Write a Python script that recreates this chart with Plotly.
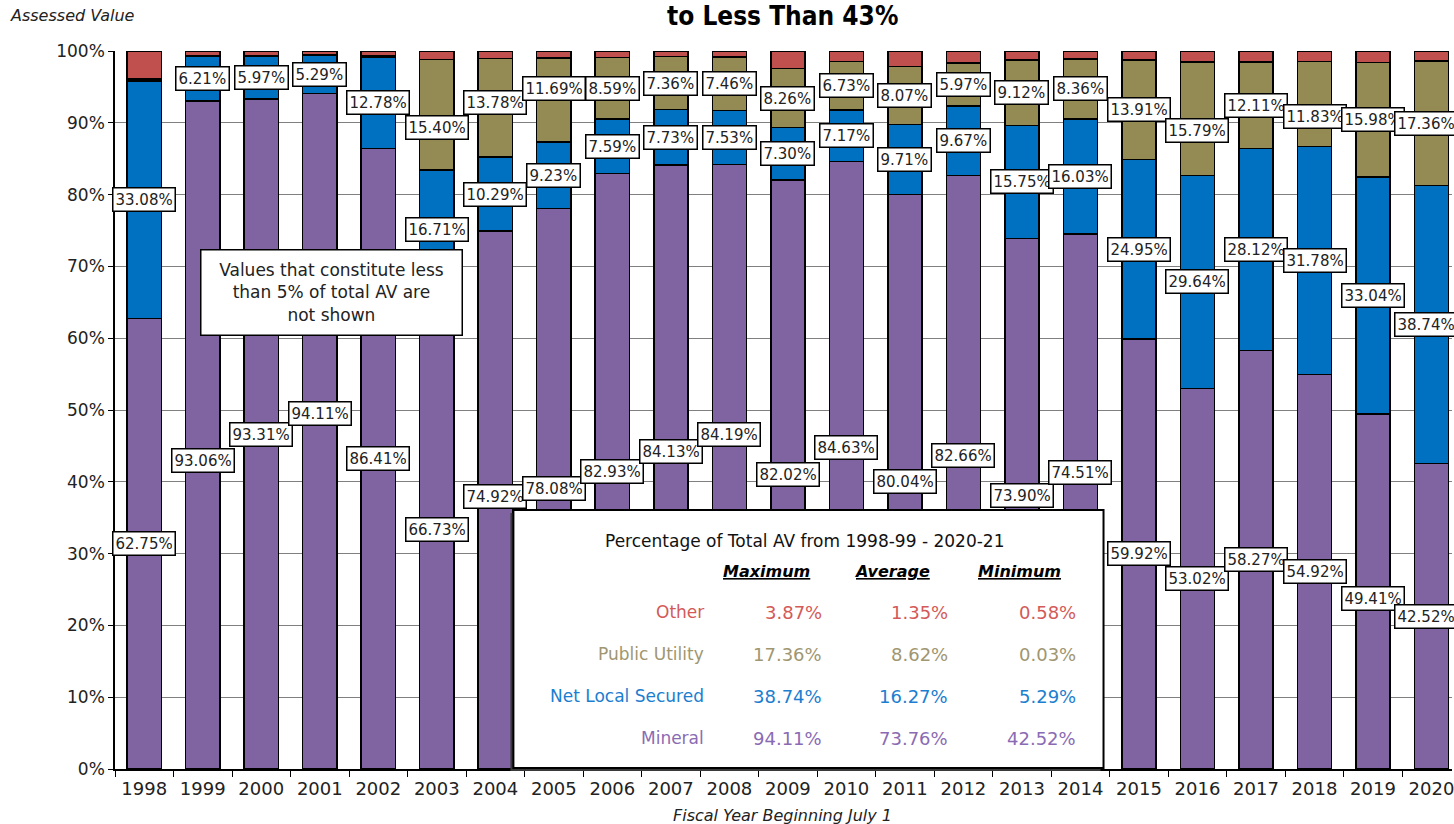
import plotly.graph_objects as go

# ---- data -------------------------------------------------------------
years = [str(y) for y in range(1998, 2021)]

mineral = [62.75, 93.06, 93.31, 94.11, 86.41, 66.73, 74.92, 78.08, 82.93, 84.13,
           84.19, 82.02, 84.63, 80.04, 82.66, 73.90, 74.51, 59.92, 53.02, 58.27,
           54.92, 49.41, 42.52]
net_local_secured = [33.08, 6.21, 5.97, 5.29, 12.78, 16.71, 10.29, 9.23, 7.59, 7.73,
                     7.53, 7.30, 7.17, 9.71, 9.67, 15.75, 16.03, 24.95, 29.64, 28.12,
                     31.78, 33.04, 38.74]
public_utility = [0.30, 0.03, 0.03, 0.03, 0.08, 15.40, 13.78, 11.69, 8.59, 7.36,
                  7.46, 8.26, 6.73, 8.07, 5.97, 9.12, 8.36, 13.91, 15.79, 12.11,
                  11.83, 15.98, 17.36]
other = [3.87, 0.70, 0.69, 0.58, 0.73, 1.16, 1.01, 1.00, 0.89, 0.78,
         0.82, 2.42, 1.47, 2.18, 1.70, 1.23, 1.10, 1.22, 1.55, 1.50,
         1.47, 1.57, 1.38]

series_names = ["Mineral", "Net Local Secured", "Public Utility", "Other"]
series_values = [mineral, net_local_secured, public_utility, other]

# ---- styling ------------------------------------------------------------
bar_colors = ["#8064A2", "#0070C0", "#948A54", "#C0504D"]
text_colors = ["#8A6BB3", "#1B7ED0", "#A09670", "#D35A58"]
FONT = "DejaVu Sans"
NARROW = "Liberation Sans Narrow, DejaVu Sans Condensed, Arial Narrow, sans-serif"
LABEL_MIN = 5.0  # smaller shares get no value label

# manual vertical nudges (percentage points) for a few value labels
label_nudge = {
    ("Mineral", "1999"): -3.5, ("Mineral", "2001"): 2.4, ("Mineral", "2004"): 0.5,
    ("Mineral", "2007"): 2.1, ("Mineral", "2008"): 4.5, ("Mineral", "2010"): 2.5,
    ("Mineral", "2012"): 2.4, ("Mineral", "2013"): 1.1, ("Mineral", "2014"): 4.1,
    ("Mineral", "2019"): -1.0,
    ("Public Utility", "2003"): -1.8, ("Public Utility", "2004"): 0.7,
    ("Public Utility", "2005"): 1.6, ("Public Utility", "2016"): -1.6,
    ("Public Utility", "2018"): -1.7,
}

# plot-area geometry in pixels (used to place free text in paper units)
FIG_W, FIG_H = 1454, 824
M_L, M_R, M_T, M_B = 115, 0, 51, 55
PLOT_W = FIG_W - M_L - M_R
PLOT_H = FIG_H - M_T - M_B


def px(x):
    return (x - M_L) / PLOT_W


def py(y):
    return (FIG_H - M_B - y) / PLOT_H


def note(x, y, text, size, color="#222222", family=FONT, xanchor="center", **kw):
    return dict(x=px(x), y=py(y), xref="paper", yref="paper", text=text,
                showarrow=False, xanchor=xanchor, yanchor="middle",
                font=dict(family=family, size=size, color=color), **kw)


fig = go.Figure()
for name, vals, col in zip(series_names, series_values, bar_colors):
    fig.add_trace(go.Bar(
        x=years, y=vals, name=name,
        marker=dict(color=col, line=dict(color="black", width=1.5)),
        hovertemplate="%{x} " + name + ": %{y:.2f}%<extra></extra>",
    ))

annotations = []

# boxed value labels centred on each large enough segment
last = len(years) - 1
base = [0.0] * len(years)
for name, vals in zip(series_names, series_values):
    for i, (yr, v) in enumerate(zip(years, vals)):
        if v >= LABEL_MIN:
            yc = base[i] + v / 2 + label_nudge.get((name, yr), 0.0)
            annotations.append(dict(
                x=i, y=yc, xref="x", yref="y", text=f"{v:.2f}%",
                xanchor="center", yanchor="middle",
                xshift=-6 if i == last else 0,  # keep the rightmost boxes on the page
                showarrow=False, bgcolor="white", bordercolor="black",
                borderwidth=1.5, borderpad=2, height=18,
                font=dict(family=FONT, size=15, color="#222222"),
            ))
        base[i] += v

# header / axis captions
annotations += [
    note(783, 16, "<b>to Less Than 43%</b>", 26, "black", NARROW),
    note(8, 15, "<i>Assessed Value</i>", 16, xanchor="left"),
    note(783, 815, "<i>Fiscal Year Beginning July 1</i>", 16),
    note(332, 292,
         "Values that constitute less<br>than 5% of total AV are<br>not shown", 17,
         bgcolor="white", bordercolor="black", borderwidth=1.5,
         width=258, height=82, align="center"),
]

# summary table
shapes = [
    dict(type="rect", xref="paper", yref="paper", layer="above",
         x0=px(511), x1=px(1102), y0=py(771), y1=py(513),
         fillcolor="#3a3a3a", line=dict(width=0)),
    dict(type="rect", xref="paper", yref="paper", layer="above",
         x0=px(514), x1=px(1105), y0=py(768), y1=py(510),
         fillcolor="white", line=dict(color="black", width=2)),
]
annotations.append(note(
    806, 541, f"Percentage of Total AV from {years[0]}-99 - {years[-1]}-21", 17,
    "#111111"))

col_centers = [767, 893, 1021]
col_rights = [825, 951, 1079]
for hdr, cx in zip(["Maximum", "Average", "Minimum"], col_centers):
    annotations.append(note(cx, 571, f"<b><i><u>{hdr}</u></i></b>", 16, "black"))

row_y = [612, 654, 696, 738]
for ry, idx in zip(row_y, [3, 2, 1, 0]):
    vals = series_values[idx]
    stats = [max(vals), sum(vals) / len(vals), min(vals)]
    col = text_colors[idx]
    annotations.append(note(707, ry, series_names[idx], 17, col, xanchor="right"))
    for s, rx in zip(stats, col_rights):
        annotations.append(note(rx, ry, f"{s:.2f}%", 18, col, xanchor="right"))

fig.update_layout(
    width=FIG_W, height=FIG_H,
    margin=dict(l=M_L, r=M_R, t=M_T, b=M_B),
    barmode="stack", bargap=0.415,
    plot_bgcolor="white", paper_bgcolor="white",
    showlegend=False,
    annotations=annotations, shapes=shapes,
    xaxis=dict(
        type="category", range=[-0.5, 22.35],
        ticks="outside", tickson="boundaries", ticklen=6, tickcolor="black",
        showline=True, linecolor="black", linewidth=1.5, showgrid=False,
        ticklabelstandoff=3,
        tickfont=dict(family=FONT, size=18, color="#222222"),
    ),
    yaxis=dict(
        range=[0, 100], dtick=10, ticksuffix="%",
        ticks="outside", ticklen=5, tickcolor="black",
        showline=True, linecolor="black", linewidth=1.5,
        gridcolor="#808080", gridwidth=1.3, zeroline=False,
        tickfont=dict(family=FONT, size=17, color="#222222"),
    ),
)

fig.write_html("out.html")
